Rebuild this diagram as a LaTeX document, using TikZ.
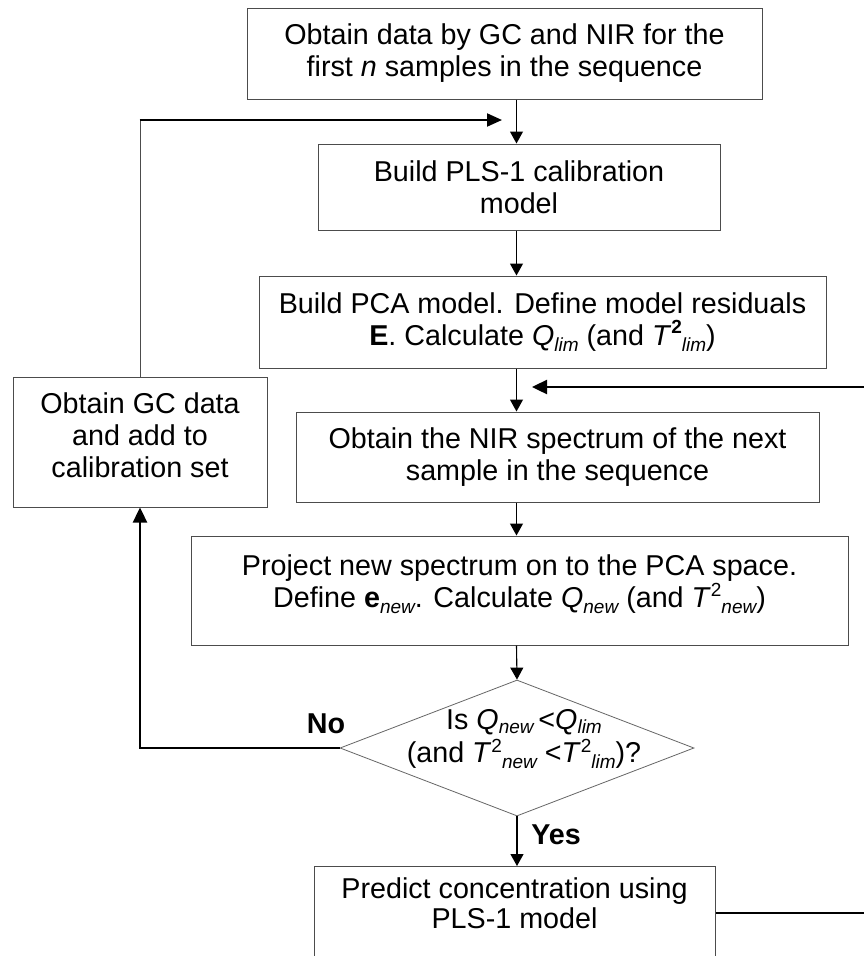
\documentclass[tikz,border=0pt]{standalone}
\usepackage{fontspec}
\setmainfont{Liberation Sans}
\usetikzlibrary{arrows.meta,shapes.geometric}
\newcommand\mysbs[1]{\raisebox{-0.22em}{\fontsize{19}{19}\selectfont\itshape #1}}
\newcommand\mysbshi[1]{\raisebox{-0.14em}{\fontsize{19}{19}\selectfont\itshape #1}}
\newcommand\mysps[1]{\raisebox{0.40em}{\fontsize{19}{19}\selectfont #1}}
\newcommand\myspslo[1]{\raisebox{0.34em}{\fontsize{19}{19}\selectfont #1}}
\begin{document}
\begin{tikzpicture}[x=1pt,y=-1pt,
  txt/.style={font=\fontsize{28.7}{32}\selectfont, align=center, inner sep=0pt},
  txtb/.style={font=\fontsize{28.7}{30}\selectfont, align=center, inner sep=0pt},
  txtd/.style={font=\fontsize{28.7}{33}\selectfont, align=center, inner sep=0pt},
  box/.style={draw=black!70, line width=1pt, fill=white, txt},
  arr/.style={draw=black, line width=1.1pt, -{Triangle[length=12pt,width=13pt]}},
  thickarr/.style={draw=black, line width=2.4pt, -{Triangle[length=15pt,width=14pt]}},
  fbarr/.style={draw=black, line width=2pt, -{Triangle[length=15pt,width=13pt]}},
  thinline/.style={draw=black!70, line width=1pt},
  lab/.style={font=\fontsize{28.7}{32}\selectfont\bfseries, anchor=base, inner sep=0pt},
]
\useasboundingbox (0,0) rectangle (864,956);
\clip (0,0) rectangle (864,956);
\fill[white] (0,0) rectangle (864,956);

\node[box, minimum width=515pt, minimum height=91pt] (b1) at (504.5,53.5)
  {Obtain data by GC and NIR for the\\ first \textit{n} samples in the sequence};
\node[box, minimum width=402pt, minimum height=86pt] (b2) at (519,187)
  {Build PLS-1 calibration\\ model};
\node[box, minimum width=567pt, minimum height=92pt] (b3) at (542.5,322)
  {Build PCA model. Define model residuals\\ \textbf{E}. Calculate \textit{Q}\mysbs{lim} (and \textit{T}\mysps{\textbf{2}}\mysbs{lim})};
\node[box, minimum width=254pt, minimum height=130pt, text depth=14pt] (gc) at (140,442)
  {Obtain GC data\\ and add to\\ calibration set};
\node[box, minimum width=523pt, minimum height=90pt] (b4) at (557.5,457)
  {Obtain the NIR spectrum of the next\\ sample in the sequence};
\node[box, minimum width=657pt, minimum height=109pt,
  label={[txt, yshift=6pt]center:{Project new spectrum on to the PCA space.\\ Define \textbf{e}\mysbs{new}. Calculate \textit{Q}\mysbs{new} (and \textit{T}\mysps{2}\mysbs{new})}}]
  (b5) at (519.5,590.5) {};
\node[diamond, draw=black!60, line width=0.8pt, fill=white, minimum width=354pt, minimum height=136pt, inner sep=0pt,
  label={[txtd, yshift=9pt, xshift=7pt]center:{Is \textit{Q}\mysbshi{new}\,<\textit{Q}\mysbshi{lim}\\ (and \textit{T}\myspslo{2}\mysbs{new} <\textit{T}\myspslo{2}\mysbs{lim})?}}]
  (dia) at (517,748) {};
\node[box, minimum width=401pt, minimum height=120pt, anchor=north,
  label={[txtb, anchor=north, yshift=-11pt]north:{Predict concentration using\\ PLS-1 model}}]
  (b6) at (514.5,866) {};

\coordinate (ax) at (516.5,0);
\coordinate (fbtop) at (140,120);
\coordinate (fbtip) at (502,120);
\coordinate (rc1) at (880,913);
\coordinate (rc2) at (880,387);
\coordinate (rtip) at (532,387);

\draw[arr] (ax |- b1.south) -- (ax |- b2.north);
\draw[arr] (ax |- b2.south) -- (ax |- b3.north);
\draw[arr] (ax |- b3.south) -- (ax |- b4.north);
\draw[arr] (ax |- b4.south) -- (ax |- b5.north);
\draw[arr] (ax |- b5.south) -- (dia.north);
\draw[arr] (dia.south) -- (dia.south |- b6.north);

\draw[thinline] (gc.north) -- (fbtop);
\draw[fbarr] ([xshift=-0.5pt]fbtop) -- (fbtip);
\draw[thickarr] (dia.west) -| (gc.south);
\draw[thickarr] ([yshift=-47pt]b6.north east) -- (rc1) -- (rc2) -- (rtip);

\node[lab] (nolab) at (326,733) {No};
\node[lab] (yeslab) at (556,844) {Yes};
\end{tikzpicture}
\end{document}
